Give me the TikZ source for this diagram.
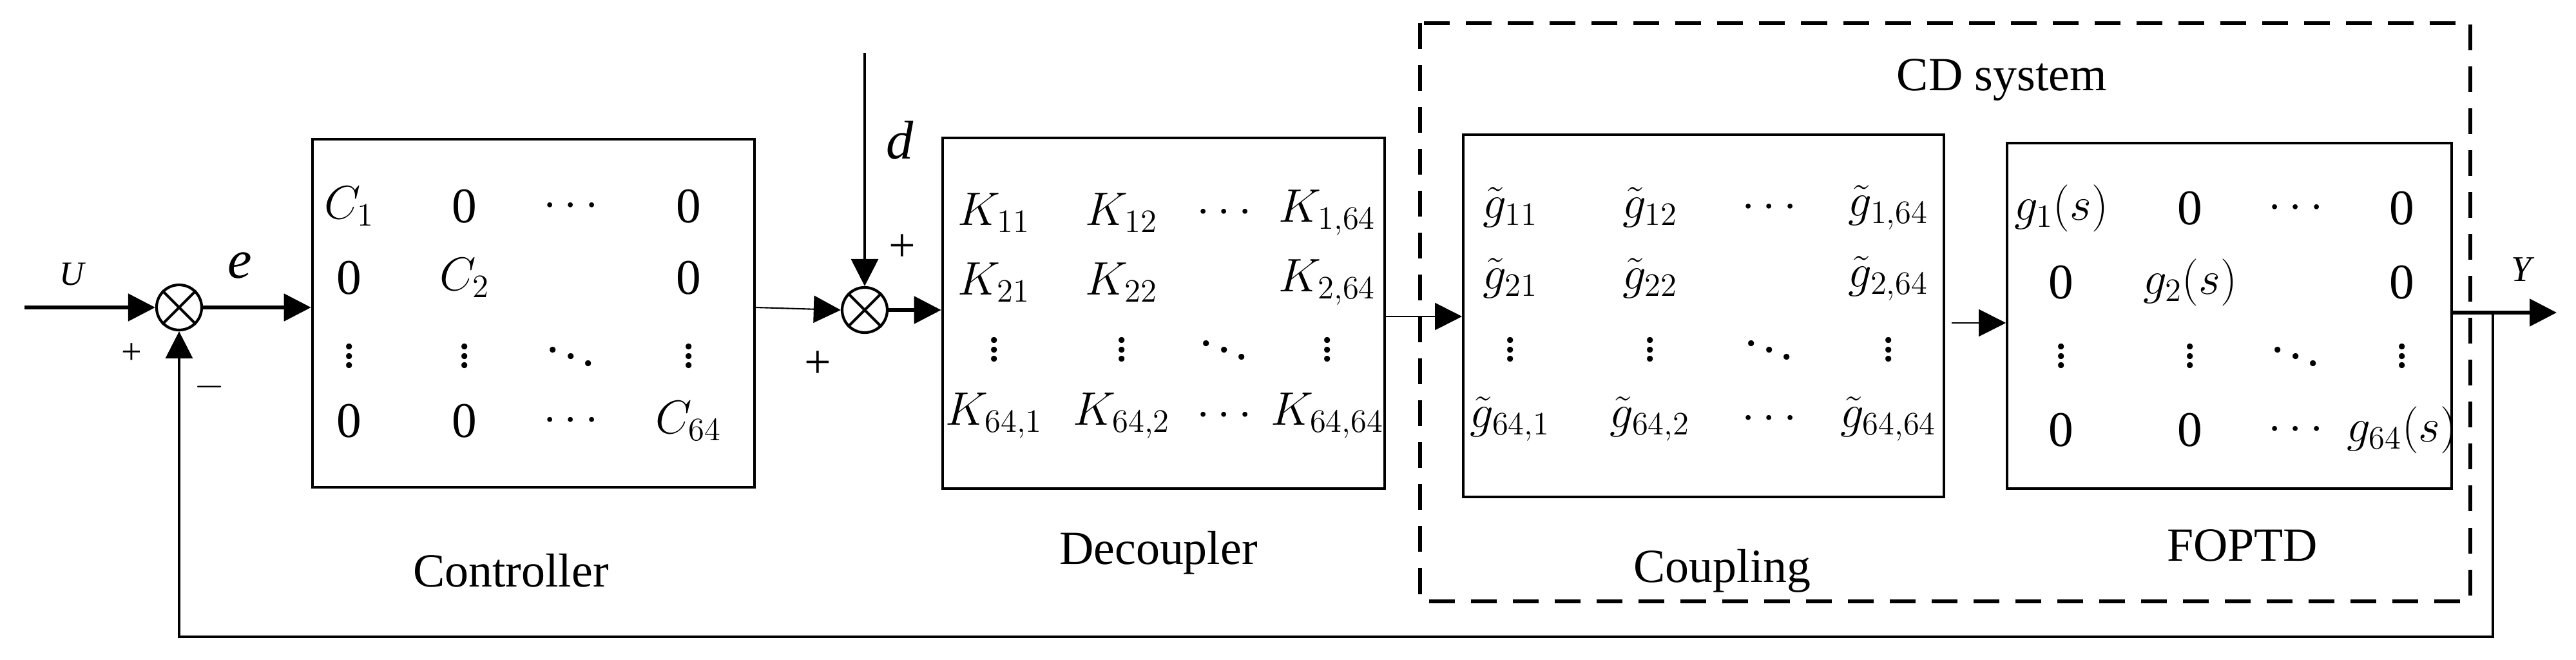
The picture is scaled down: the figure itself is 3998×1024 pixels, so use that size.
\documentclass[tikz,border=0pt]{standalone}
\usepackage{fontspec}
\setmainfont{Liberation Serif}
\usetikzlibrary{arrows.meta}
\begin{document}
\begin{tikzpicture}[x=0.01cm,y=-0.01cm,
  tip/.style={-{Triangle[length=0.42cm,width=0.42cm]}},
  blk/.style={draw,line width=1.2pt,inner sep=0pt},
  sum/.style={draw,circle,line width=1.2pt,minimum size=0.7cm,inner sep=0pt},
  lbl/.style={font=\fontsize{21}{24}\selectfont},
  ent/.style={font=\fontsize{22}{24}\selectfont,anchor=center,inner sep=0pt}]
\useasboundingbox (0,0) rectangle (3998,1024);
% blocks
\node[blk,minimum width=6.86cm,minimum height=5.39cm] (ctrl) at (828,486) {};
\node[blk,minimum width=6.86cm,minimum height=5.44cm] (dec) at (1806,486) {};
\node[blk,minimum width=7.45cm,minimum height=5.61cm] (cpl) at (2644,490) {};
\node[blk,minimum width=6.89cm,minimum height=5.36cm] (fop) at (3460,490) {};
\draw[line width=1.8pt,dash pattern=on 0.4cm off 0.25cm] (2204,36) rectangle (3834,933);
\node[lbl] (cds) at (3107,124) {CD system};
% sums
\node[sum] (s1) at (278,477) {};
\node[sum] (s2) at (1342,481) {};
\foreach \s in {s1,s2}{\draw[line width=1.2pt] (\s.north west)--(\s.south east) (\s.north east)--(\s.south west);}
% labels
\node[lbl] (ctrlL) at (793,885) {Controller};
\node[lbl] (decL) at (1798,858) {Decoupler};
\node[lbl] (cplL) at (2673,886) {Coupling};
\node[lbl] (fopL) at (3480,846) {FOPTD};
\node[font=\fontsize{15}{18}\selectfont\itshape] (uL) at (112,425) {U};
\node[font=\fontsize{24}{26}\selectfont\itshape] (eL) at (372,412) {e};
\node[font=\fontsize{16}{18}\selectfont] (p1) at (204,549) {+};
\node[font=\fontsize{16}{18}\selectfont] (m1) at (325,600) {$-$};
\node[font=\fontsize{24}{26}\selectfont\itshape] (dL) at (1397,218) {d};
\node[font=\fontsize{21}{22}\selectfont] (p2) at (1400,385) {+};
\node[font=\fontsize{21}{22}\selectfont] (p3) at (1269,566) {+};
\node[font=\fontsize{16}{18}\selectfont\itshape] (yL) at (3913,418) {Y};
% connectors
\coordinate (uin) at (38,477);
\coordinate (dtop) at (1342,82);
\coordinate (tap) at (3869,485);
\coordinate (yend) at (3968,485);
\coordinate (fb1) at (3869,988);
\coordinate (fb2) at (278,988);
\draw[line width=1.5pt,tip] (uin) -- (s1.west);
\draw[line width=1.5pt,tip] (s1.east) -- (ctrl.west |- s1.east);
\draw[line width=0.6pt,tip] (ctrl.east |- s1) -- (s2.west);
\draw[line width=1.0pt,tip] (dtop) -- (s2.north);
\draw[line width=1.5pt,tip] (s2.east) -- (dec.west |- s2.east);
\draw[line width=0.6pt,tip] (dec.east |- 0,491) -- (cpl.west |- 0,491);
\draw[line width=0.6pt,tip] (cpl.east |- 0,501) ++(10,0) -- (fop.west |- 0,501);
\draw[line width=1.5pt,tip] (fop.east |- tap) -- (yend);
\draw[line width=1.0pt,tip] (tap) -- (fb1) -- (fb2) -- (s1.south);
% matrix entries
\foreach \x/\y/\t in {542/320/{$C_1$},721/320/0,886/320/{$\cdots$},1069/320/0,
 542/431/0,721/431/{$C_2$},1069/431/0,
 542/542/{$\vdots$},721/542/{$\vdots$},886/542/{$\ddots$},1069/542/{$\vdots$},
 542/653/0,721/653/0,886/653/{$\cdots$},1069/653/{$C_{64}$},
 1543/330/{$K_{11}$},1741/330/{$K_{12}$},1900/330/{$\cdots$},2060/330/{$K_{1,64}$},
 1543/438/{$K_{21}$},1741/438/{$K_{22}$},2060/438/{$K_{2,64}$},
 1543/532/{$\vdots$},1741/532/{$\vdots$},1900/532/{$\ddots$},2060/532/{$\vdots$},
 1543/645/{$K_{64,1}$},1741/645/{$K_{64,2}$},1900/645/{$\cdots$},2060/645/{$K_{64,64}$},
 2344/322/{$\tilde g_{11}$},2561/322/{$\tilde g_{12}$},2746/322/{$\cdots$},2931/322/{$\tilde g_{1,64}$},
 2344/432/{$\tilde g_{21}$},2561/432/{$\tilde g_{22}$},2931/432/{$\tilde g_{2,64}$},
 2344/532/{$\vdots$},2561/532/{$\vdots$},2746/532/{$\ddots$},2931/532/{$\vdots$},
 2344/650/{$\tilde g_{64,1}$},2561/650/{$\tilde g_{64,2}$},2746/650/{$\cdots$},2931/650/{$\tilde g_{64,64}$},
 3199/323/{$g_1(s)$},3399/323/0,3563/323/{$\cdots$},3728/323/0,
 3199/438/0,3399/438/{$g_2(s)$},3728/438/0,
 3199/542/{$\vdots$},3399/542/{$\vdots$},3563/542/{$\ddots$},3728/542/{$\vdots$},
 3199/667/0,3399/667/0,3563/667/{$\cdots$},3728/667/{$g_{64}(s)$}}
 {\node[ent] at (\x,\y) {\t};}
\end{tikzpicture}
\end{document}
